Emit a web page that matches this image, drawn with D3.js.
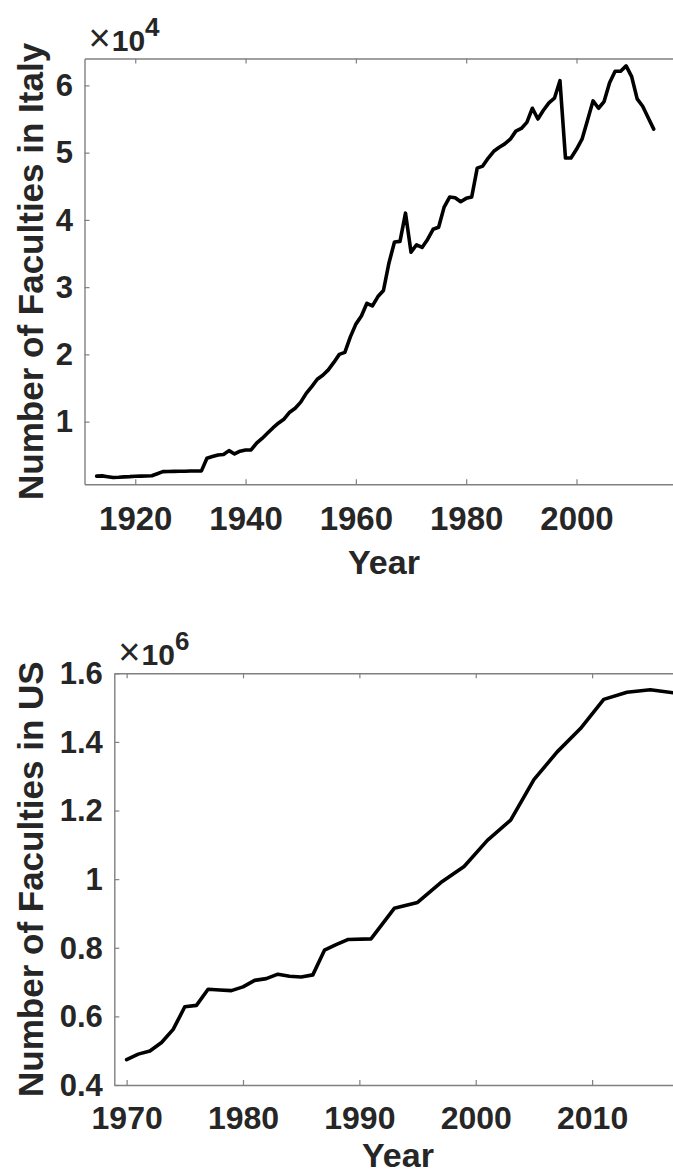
<!DOCTYPE html>
<html><head><meta charset="utf-8">
<script src="https://cdn.jsdelivr.net/npm/d3@7"></script>
<style>body{margin:0;background:#fff}svg{display:block}</style>
</head><body>
<svg id="c" width="673" height="1173"></svg>
<script>
// ---------- DATA ----------
const italyYears = [1913,1914,1915,1916,1917,1918,1919,1920,1921,1922,1923,1924,1925,1926,1927,1928,1929,1930,1931,1932,1933,1934,1935,1936,1937,1938,1939,1940,1941,1942,1943,1944,1945,1946,1947,1948,1949,1950,1951,1952,1953,1954,1955,1956,1957,1958,1959,1960,1961,1962,1963,1964,1965,1966,1967,1968,1969,1970,1971,1972,1973,1974,1975,1976,1977,1978,1979,1980,1981,1982,1983,1984,1985,1986,1987,1988,1989,1990,1991,1992,1993,1994,1995,1996,1997,1998,1999,2000,2001,2002,2003,2004,2005,2006,2007,2008,2009,2010,2011,2012,2013,2014];
const italyFaculties = [1900,1930,1800,1680,1720,1780,1820,1880,1900,1920,1960,2250,2560,2580,2600,2620,2630,2650,2660,2680,4550,4800,5040,5100,5690,5190,5600,5790,5800,6800,7500,8300,9100,9800,10400,11400,12000,12900,14200,15200,16300,16900,17700,18800,20000,20300,22600,24500,25700,27600,27200,28600,29500,33600,36700,36800,41000,35200,36300,35900,37100,38600,38900,41900,43400,43300,42700,43200,43400,47700,48000,49200,50200,50800,51300,52000,53200,53600,54500,56600,55000,56300,57400,58100,60700,49200,49200,50500,52000,54800,57700,56600,57600,60400,62100,62100,62900,61300,58000,56900,55200,53500];
const italyXTicks = [1920,1940,1960,1980,2000];
const italyYTicks = [10000,20000,30000,40000,50000,60000];
const italyYTickLabels = ["1","2","3","4","5","6"];

const usYears = [1970,1971,1972,1973,1974,1975,1976,1977,1978,1979,1980,1981,1982,1983,1984,1985,1986,1987,1988,1989,1991,1993,1995,1997,1999,2001,2003,2005,2007,2009,2011,2013,2015,2017];
const usFaculties = [474000,490000,499000,524000,562000,628000,632000,679000,677000,675000,686000,705000,710000,723000,717000,715000,721000,793000,809000,824000,826000,915000,932000,990000,1037000,1113000,1172000,1290000,1371000,1439000,1524000,1545000,1552000,1543000];
const usXTicks = [1970,1980,1990,2000,2010];
const usYTicks = [400000,600000,800000,1000000,1200000,1400000,1600000];
const usYTickLabels = ["0.4","0.6","0.8","1","1.2","1.4","1.6"];

// ---------- DRAW ----------
const svg = d3.select("#c");
const FONT = "'Liberation Sans', Arial, Helvetica, sans-serif";
const AXC = "#808080", TXC = "#262626";

function panel(o){
  const x = d3.scaleLinear().domain(o.xDomain).range([o.left, o.right]);
  const y = d3.scaleLinear().domain(o.yDomain).range([o.bottom, o.top]);
  const g = svg.append("g");

  const xb = g.append("g").attr("transform",`translate(0,${o.bottom})`)
    .call(d3.axisBottom(x).tickValues(o.xTicks).tickFormat(d3.format("d")).tickSizeInner(-5).tickSizeOuter(0));
  xb.selectAll("text").attr("y", o.xLabelGap).attr("dy", null)
    .style("font-size", o.xTickFont+"px");
  g.append("g").attr("transform",`translate(0,${o.top})`)
    .call(d3.axisTop(x).tickValues(o.xTicks).tickFormat("").tickSizeInner(-5).tickSizeOuter(0));
  const yl = g.append("g").attr("transform",`translate(${o.left},0)`)
    .call(d3.axisLeft(y).tickValues(o.yTicks).tickFormat((d,i)=>o.yTickLabels[i]).tickSizeInner(-5).tickSizeOuter(0));
  yl.selectAll("text").attr("x", -11.5).attr("dy","0.33em").style("font-size", o.yTickFont+"px");

  g.selectAll(".domain").attr("stroke", AXC).attr("stroke-width", 1.4);
  g.selectAll(".tick line").attr("stroke", AXC).attr("stroke-width", 1.2);
  g.selectAll(".tick text").attr("fill", TXC).style("font-family", FONT).style("font-weight","bold");

  const pts = o.xs.map((d,i)=>[d, o.ys[i]]);
  g.append("path").datum(pts)
    .attr("fill","none").attr("stroke","#000").attr("stroke-width",3.6)
    .attr("stroke-linejoin","round").attr("stroke-linecap","round")
    .attr("d", d3.line().x(d=>x(d[0])).y(d=>y(d[1])));

  const t = g.append("text").attr("x", o.left+4).attr("y", o.top-8)
    .attr("fill", TXC).style("font-family", FONT).style("font-size","30px");
  t.append("tspan").style("font-size","38px").text("\u00D7");
  t.append("tspan").attr("dx", 1).style("font-weight","bold").text("10");
  t.append("tspan").attr("dy", -15).style("font-weight","bold").style("font-size","26px").text(o.exp);

  g.append("text").attr("x", (o.left+o.right)/2).attr("y", o.xTitleY)
    .attr("text-anchor","middle").attr("fill", TXC)
    .style("font-family", FONT).style("font-weight","bold").style("font-size","34px")
    .text("Year");
  g.append("text").attr("transform",`translate(${o.yTitleX},${(o.top+o.bottom)/2}) rotate(-90)`)
    .attr("text-anchor","middle").attr("fill", TXC)
    .style("font-family", FONT).style("font-weight","bold").style("font-size","35px")
    .text(o.yTitle);
}

panel({
  xs: italyYears, ys: italyFaculties,
  xDomain:[1910.8, 2019.4], yDomain:[680, 64000],
  left:84.5, right:683.5, top:58.5, bottom:484.3,
  xTicks: italyXTicks, yTicks: italyYTicks, yTickLabels: italyYTickLabels,
  xTickFont: 33, yTickFont: 31, xLabelGap: 45.7, xTitleY: 574.3,
  yTitleX: 42.5, yTitle: "Number of Faculties in Italy", exp: "4"
});

panel({
  xs: usYears, ys: usFaculties,
  xDomain:[1968.94, 2017.7], yDomain:[400000, 1600000],
  left:114.3, right:681.7, top:673.3, bottom:1085,
  xTicks: usXTicks, yTicks: usYTicks, yTickLabels: usYTickLabels,
  xTickFont: 32, yTickFont: 31, xLabelGap: 43.8, xTitleY: 1167,
  yTitleX: 42.5, yTitle: "Number of Faculties in US", exp: "6"
});
</script>
</body></html>
